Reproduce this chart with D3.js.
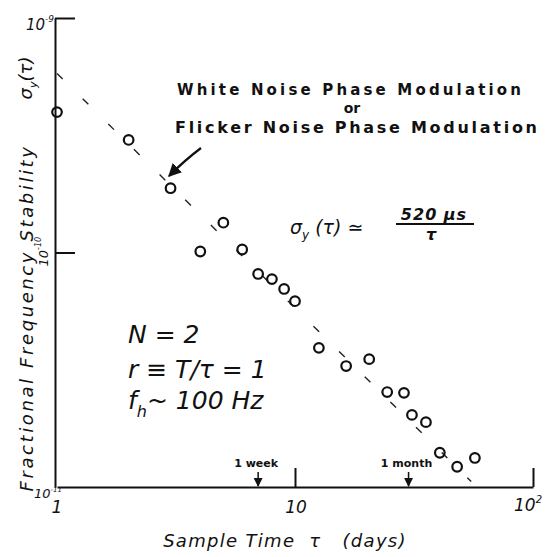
<!DOCTYPE html>
<html>
<head>
<meta charset="utf-8">
<script src="https://cdn.jsdelivr.net/npm/d3@7"></script>
<style>
  body { margin: 0; background: #fff; }
  svg { display: block; }
  .hand { font-family: "DejaVu Sans", sans-serif; font-style: italic; fill: #111; }
  .stamp { font-family: "DejaVu Sans", sans-serif; font-weight: bold; fill: #111; }
</style>
</head>
<body>
<svg id="chart" width="545" height="557"></svg>
<script>
// sample times (days) and measured sigma_y(tau)
const tau = [1, 2, 3, 5, 4, 6, 7, 8, 9, 10, 12.6, 16.4, 20.5, 24.4, 28.7, 31, 35.5, 40.6, 48, 57];
const sigma = [3.97e-10, 3.02e-10, 1.88e-10, 1.34e-10, 1.01e-10, 1.03e-10, 8.1e-11, 7.7e-11, 6.99e-11, 6.2e-11,
               3.92e-11, 3.28e-11, 3.51e-11, 2.54e-11, 2.52e-11, 2.03e-11, 1.89e-11, 1.40e-11, 1.22e-11, 1.33e-11];

// fitted 1/tau line
const fitTau = [1, 55];
const fitK = 5.8e-10;

const xTicks = [1, 10, 100];
const yTicks = [1e-9, 1e-10, 1e-11];
const marks = [{ t: 7, label: "1 week" }, { t: 30, label: "1 month" }];

const svg = d3.select("#chart");
const x = d3.scaleLog().domain([1, 100]).range([57, 533]);
const y = d3.scaleLog().domain([1e-11, 1e-9]).range([487, 18]);

// axes
svg.append("g")
  .attr("transform", "translate(0," + y(1e-11) + ")")
  .call(d3.axisBottom(x).tickValues([10, 100]).tickSize(-19).tickSizeOuter(0).tickFormat(""))
  .call(g => g.selectAll("path,line").attr("stroke", "#111").attr("stroke-width", 2));

svg.append("g")
  .attr("transform", "translate(" + (x(1) - 2) + ",0)")
  .call(d3.axisLeft(y).tickValues([1e-9, 1e-10]).tickSize(-20).tickSizeOuter(0).tickFormat(""))
  .call(g => g.selectAll("path,line").attr("stroke", "#111").attr("stroke-width", 2));

// x tick labels
svg.append("text").attr("class", "hand").attr("x", x(1)).attr("y", 513)
  .attr("text-anchor", "middle").style("font-size", "17px").text("1");
svg.append("text").attr("class", "hand").attr("x", x(10) + 1).attr("y", 513)
  .attr("text-anchor", "middle").style("font-size", "17px").text("10");
const t100 = svg.append("text").attr("class", "hand").attr("x", x(100) - 19).attr("y", 511).style("font-size", "17px");
t100.append("tspan").text("10");
t100.append("tspan").attr("dy", -8).style("font-size", "10px").text("2");

// y tick labels
const l9 = svg.append("text").attr("class", "hand").attr("x", 26).attr("y", y(1e-9) + 12).style("font-size", "15px");
l9.append("tspan").text("10");
l9.append("tspan").attr("dy", -8).style("font-size", "9px").text("-9");

const l10 = svg.append("text").attr("class", "hand")
  .attr("transform", "translate(48," + (y(1e-10) + 14) + ") rotate(-90)").style("font-size", "13px");
l10.append("tspan").text("10");
l10.append("tspan").attr("dy", -7).style("font-size", "8px").text("-10");

const l11 = svg.append("text").attr("class", "hand").attr("x", 34).attr("y", y(1e-11) + 11).style("font-size", "13px");
l11.append("tspan").text("10");
l11.append("tspan").attr("dy", -6).style("font-size", "7px").text("-11");

// axis titles
svg.append("text").attr("class", "hand")
  .attr("transform", "translate(33,318) rotate(-90)")
  .attr("text-anchor", "middle").style("font-size", "18px").style("letter-spacing", "2.6px")
  .text("Fractional  Frequency  Stability");

const sy = svg.append("text").attr("class", "hand")
  .attr("transform", "translate(32,78) rotate(-90)")
  .attr("text-anchor", "middle").style("font-size", "18px");
sy.append("tspan").text("σ");
sy.append("tspan").attr("dy", 5).style("font-size", "11px").text("y");
sy.append("tspan").attr("dy", -5).text("(τ)");

svg.append("text").attr("class", "hand").attr("x", 285).attr("y", 547)
  .attr("text-anchor", "middle").style("font-size", "18px").style("letter-spacing", "1.3px")
  .attr("xml:space", "preserve")
  .text("Sample Time  τ   (days)");

// fitted dashed line
svg.append("path")
  .datum(fitTau)
  .attr("d", d3.line().x(d => x(d)).y(d => y(fitK / d)))
  .attr("fill", "none").attr("stroke", "#222").attr("stroke-width", 1.4)
  .attr("stroke-dasharray", "8,28");

// data points
svg.selectAll("circle.pt")
  .data(tau.map((t, i) => ({ t, s: sigma[i] })))
  .join("circle")
  .attr("class", "pt")
  .attr("cx", d => x(d.t))
  .attr("cy", d => y(d.s))
  .attr("r", 4.8)
  .attr("fill", "none").attr("stroke", "#111").attr("stroke-width", 2.2);

// week / month markers
svg.append("defs").append("marker")
  .attr("id", "ah").attr("viewBox", "0 0 10 10").attr("refX", 9).attr("refY", 5)
  .attr("markerWidth", 6).attr("markerHeight", 6).attr("orient", "auto-start-reverse")
  .append("path").attr("d", "M0,0 L10,5 L0,10 Z").attr("fill", "#111");

marks.forEach(m => {
  svg.append("line")
    .attr("x1", x(m.t)).attr("x2", x(m.t))
    .attr("y1", y(1e-11) - 15).attr("y2", y(1e-11) - 1)
    .attr("stroke", "#111").attr("stroke-width", 1.5).attr("marker-end", "url(#ah)");
  svg.append("text").attr("class", "stamp")
    .attr("x", x(m.t) - 2).attr("y", y(1e-11) - 20)
    .attr("text-anchor", "middle")
    .style("font-size", "11px")
    .text(m.label);
});

// annotation titles
svg.append("text").attr("class", "stamp").attr("x", 177).attr("y", 95)
  .attr("textLength", 344).attr("lengthAdjust", "spacing").style("font-size", "15px")
  .text("White Noise Phase Modulation");
svg.append("text").attr("class", "stamp").attr("x", 352).attr("y", 113)
  .attr("text-anchor", "middle").style("font-size", "14px").text("or");
svg.append("text").attr("class", "stamp").attr("x", 175).attr("y", 133)
  .attr("textLength", 362).attr("lengthAdjust", "spacing").style("font-size", "16px")
  .text("Flicker Noise Phase Modulation");

// pointer arrow
svg.append("path")
  .attr("d", "M201,148 Q185,160 169,176")
  .attr("fill", "none").attr("stroke", "#111").attr("stroke-width", 2.2)
  .attr("marker-end", "url(#ah)");

// formula
const f = svg.append("text").attr("class", "hand").attr("x", 290).attr("y", 234)
  .style("font-size", "19px").attr("xml:space", "preserve");
f.append("tspan").text("σ");
f.append("tspan").attr("dy", 5).style("font-size", "12px").text("y");
f.append("tspan").attr("dy", -5).text(" (τ) ≃");
svg.append("text").attr("class", "hand").attr("x", 434).attr("y", 220)
  .attr("text-anchor", "middle").style("font-size", "16px").style("font-weight", "bold")
  .style("letter-spacing", "1px").text("520 μs");
svg.append("line").attr("x1", 396).attr("x2", 474).attr("y1", 224).attr("y2", 224)
  .attr("stroke", "#111").attr("stroke-width", 1.8);
svg.append("text").attr("class", "hand").attr("x", 431).attr("y", 240)
  .attr("text-anchor", "middle").style("font-size", "16px").style("font-weight", "bold").text("τ");

// run parameters
svg.append("text").attr("class", "hand").attr("x", 128).attr("y", 343)
  .style("font-size", "25px").attr("xml:space", "preserve").text("N = 2");
svg.append("text").attr("class", "hand").attr("x", 128).attr("y", 378)
  .style("font-size", "25px").attr("xml:space", "preserve").text("r ≡ T/τ = 1");
const fh = svg.append("text").attr("class", "hand").attr("x", 128).attr("y", 409).style("font-size", "25px");
fh.append("tspan").text("f");
fh.append("tspan").attr("dy", 8).style("font-size", "16px").text("h");
fh.append("tspan").attr("dy", -8).text("~ 100 Hz");
</script>
</body>
</html>
